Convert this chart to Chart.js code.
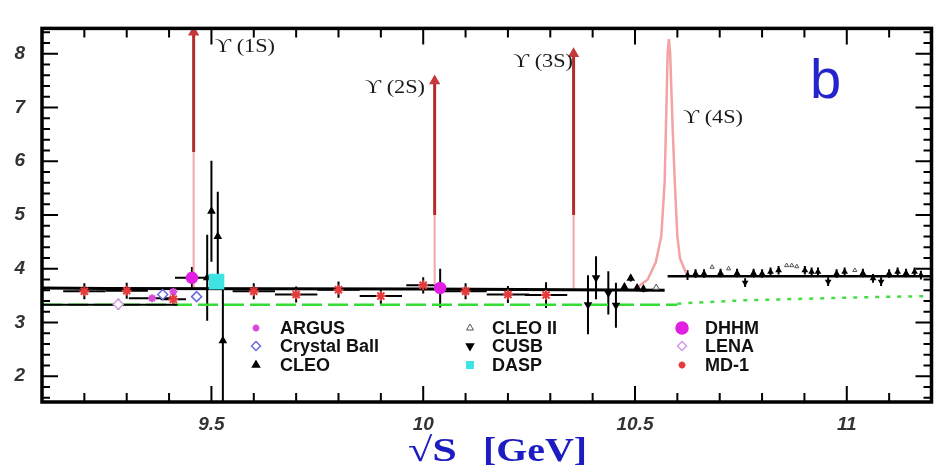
<!DOCTYPE html>
<html><head><meta charset="utf-8">
<script src="https://cdn.jsdelivr.net/npm/chart.js@4.4.1/dist/chart.umd.min.js"></script>
<style>html,body{margin:0;padding:0;background:#fff;}</style>
</head><body>
<canvas id="c" width="943" height="472"></canvas>
<script>
// ---------- axis ranges & tick labels ----------
const xMin = 9.1, xMax = 11.2, yMin = 1.52, yMax = 8.47;
const xTickLabels = [9.5, 10, 10.5, 11];
const yTickLabels = [2, 3, 4, 5, 6, 7, 8];

// ---------- experiments ----------
const argusX = [9.36, 9.41];
const argusY = [3.45, 3.57];
const argusErrY = [0.05, 0.08];
const argusErrX = [0.055, 0];

const cbX = [9.385, 9.465];
const cbY = [3.52, 3.48];
const cbErrY = [0.06, 0.06];

const cleoX = [9.49, 9.50, 9.515, 9.527, 10.475, 10.49, 10.505, 10.52, 10.624, 10.643, 10.663, 10.702, 10.741, 10.78, 10.80, 10.82, 10.839, 10.901, 10.917, 10.932, 10.976, 10.995, 11.038, 11.062, 11.10, 11.12, 11.14, 11.16, 11.175];
const cleoY = [3.83, 5.07, 4.60, 2.66, 3.66, 3.82, 3.64, 3.62, 3.88, 3.91, 3.91, 3.92, 3.92, 3.92, 3.91, 3.94, 3.97, 3.97, 3.94, 3.94, 3.91, 3.94, 3.92, 3.82, 3.91, 3.94, 3.92, 3.94, 3.88];
const cleoErrY = [0.80, 0.94, 0.83, 1.15, 0.06, 0.06, 0.06, 0.06, 0.09, 0.08, 0.08, 0.08, 0.08, 0.08, 0.08, 0.08, 0.08, 0.08, 0.08, 0.08, 0.08, 0.08, 0.08, 0.08, 0.08, 0.08, 0.08, 0.08, 0.08];

const cleo2X = [10.55, 10.682, 10.721, 10.858, 10.87, 10.882, 11.019];
const cleo2Y = [3.65, 4.03, 4.00, 4.06, 4.06, 4.04, 3.97];

const cusbX = [10.389, 10.408, 10.437, 10.455, 10.76, 10.956, 11.081];
const cusbY = [3.33, 3.83, 3.55, 3.32, 3.74, 3.76, 3.76];
const cusbErrY = [0.55, 0.40, 0.40, 0.42, 0.08, 0.08, 0.08];

const daspX = [9.512];
const daspY = [3.76];
const daspErrY = [0.10];

const dhhmX = [9.454, 10.04];
const dhhmY = [3.83, 3.64];
const dhhmErrY = [0.20, 0.36];
const dhhmErrX = [0.04, 0];

const lenaX = [9.28];
const lenaY = [3.34];
const lenaErrY = [0.10];

const md1X = [9.20, 9.30, 9.41, 9.60, 9.70, 9.80, 9.90, 10.00, 10.10, 10.20, 10.29];
const md1Y = [3.58, 3.59, 3.43, 3.58, 3.52, 3.61, 3.49, 3.69, 3.58, 3.52, 3.51];
const md1ErrY = [0.15, 0.15, 0.10, 0.15, 0.15, 0.15, 0.15, 0.15, 0.15, 0.16, 0.24];
const md1ErrX = [0.05, 0.05, 0.03, 0.05, 0.05, 0.05, 0.05, 0.04, 0.05, 0.05, 0.05];

// ---------- resonances ----------
const upsNames = ['ϒ (1S)', 'ϒ (2S)', 'ϒ (3S)', 'ϒ (4S)'];
const upsMass = [9.458, 10.027, 10.355];
const upsTop = [8.40, 7.49, 8.00];
const upsDarkFrom = [6.17, 5.00, 5.00];
const upsBase = [3.62, 3.70, 3.61];

const peak4X = [10.50, 10.53, 10.549, 10.562, 10.570, 10.573, 10.577, 10.580, 10.583, 10.589, 10.594, 10.600, 10.606, 10.616, 10.624];
const peak4Y = [3.62, 3.80, 4.12, 4.60, 5.60, 6.60, 8.00, 8.27, 8.00, 6.60, 5.60, 4.60, 4.20, 4.00, 3.88];

// ---------- continuum lines ----------
const contUpperX = [9.1, 9.25, 10.0, 10.57];
const contUpperY = [3.64, 3.63, 3.62, 3.60];
const contLowerX = [9.1, 9.42];
const contLowerY = [3.33, 3.33];
const contRightX = [10.577, 11.2];
const contRightY = [3.86, 3.86];
const greenDashX = [9.1, 10.6];
const greenDashY = [3.33, 3.33];
const greenDotX = [10.6, 10.75, 10.9, 11.05, 11.2];
const greenDotY = [3.35, 3.41, 3.44, 3.47, 3.49];

const pts = (xs, ys) => xs.map((x, i) => ({x: x, y: ys[i]}));
// smaller markers in the dense continuum scan above the 4S
const scanRadius = ctx => (ctx.raw && ctx.raw.x > 10.6) ? 2.4 : 3.5;

function marker(label, xs, ys, style, extra) {
  return Object.assign({
    label: label, data: pts(xs, ys), showLine: false,
    pointStyle: style, pointRadius: 4, pointBorderWidth: 1.5,
    pointBackgroundColor: '#000', pointBorderColor: '#000'
  }, extra || {});
}
function line(xs, ys, color, width, dash) {
  return { label: '', data: pts(xs, ys), showLine: true, pointRadius: 0,
    borderColor: color, borderWidth: width, borderDash: dash || [], fill: false, tension: 0 };
}

const datasets = [
  marker('DHHM', dhhmX, dhhmY, 'circle', {pointRadius: 5.5, pointBackgroundColor: '#e21ee2', pointBorderColor: '#e21ee2', errY: dhhmErrY, errX: dhhmErrX, legendRadius: 6}),
  marker('DASP', daspX, daspY, 'rect', {pointRadius: 10, pointBackgroundColor: '#3fe3e3', pointBorderColor: '#3fe3e3', errY: daspErrY, legendRadius: 4.5}),
  marker('MD-1', md1X, md1Y, 'star', {pointRadius: 5, pointBorderWidth: 2, pointBorderColor: '#e83a3a', pointBackgroundColor: '#e83a3a', errY: md1ErrY, errX: md1ErrX, legendRadius: 3.5}),
  marker('ARGUS', argusX, argusY, 'star', {pointRadius: 4, pointBorderWidth: 2, pointBorderColor: '#d94ad9', pointBackgroundColor: '#d94ad9', errY: argusErrY, errX: argusErrX, legendRadius: 3.5}),
  marker('Crystal Ball', cbX, cbY, 'rectRot', {pointRadius: 5, pointBorderColor: '#6a6ae0', pointBackgroundColor: '#ffffff', errY: cbErrY, legendRadius: 4.5}),
  marker('LENA', lenaX, lenaY, 'rectRot', {pointRadius: 5, pointBorderColor: '#d29be6', pointBackgroundColor: '#ffffff', errY: lenaErrY, legendRadius: 4.5}),
  marker('CLEO', cleoX, cleoY, 'triangle', {pointRadius: scanRadius, errY: cleoErrY, legendRadius: 4}),
  marker('CLEO II', cleo2X, cleo2Y, 'triangle', {pointRadius: scanRadius, pointBackgroundColor: '#ffffff', pointBorderColor: '#555', pointBorderWidth: 1, legendRadius: 4}),
  marker('CUSB', cusbX, cusbY, 'triangle', {pointRadius: scanRadius, pointRotation: 180, errY: cusbErrY, legendRadius: 4}),
  line(contRightX, contRightY, '#000', 2.5),
  line(contUpperX, contUpperY, '#000', 3),
  line(contLowerX, contLowerY, '#000', 2),
  line(peak4X, peak4Y, '#f3a3a3', 2.5),
  line(greenDashX, greenDashY, '#33dd33', 2.5, [20, 6]),
  line(greenDotX, greenDotY, '#44dd44', 2.5, [4, 7])
];
// narrow Upsilon resonances: pale lower part + dark upper part with arrowhead
upsMass.forEach((m, i) => {
  datasets.push({ label: '', showLine: true, borderColor: '#b42b2b', borderWidth: 3,
    data: [{x: m, y: upsDarkFrom[i]}, {x: m, y: upsTop[i]}],
    pointRadius: [0, 3.5], pointStyle: 'triangle', pointBackgroundColor: '#c43a3a', pointBorderColor: '#c43a3a' });
  datasets.push({ label: '', showLine: true, borderColor: '#f2a8a8', borderWidth: 2, pointRadius: 0,
    data: [{x: m, y: upsBase[i]}, {x: m, y: upsDarkFrom[i]}] });
});

function drawStretched(ctx, text, x, y, w) {
  const mw = ctx.measureText(text).width;
  ctx.save(); ctx.translate(x, y); ctx.scale(w / mw, 1); ctx.fillText(text, 0, 0); ctx.restore();
}

const decor = {
  id: 'decor',
  beforeDatasetsDraw(chart) {
    const {ctx, chartArea: a, scales: {x, y}} = chart;
    ctx.save();
    ctx.beginPath(); ctx.rect(a.left, a.top, a.right - a.left, a.bottom - a.top); ctx.clip();
    chart.data.datasets.forEach(ds => {
      if (!ds.errY && !ds.errX) return;
      ctx.strokeStyle = '#000'; ctx.lineWidth = 2;
      ds.data.forEach((p, j) => {
        const px = x.getPixelForValue(p.x), py = y.getPixelForValue(p.y);
        ctx.beginPath();
        if (ds.errY && ds.errY[j]) { ctx.moveTo(px, y.getPixelForValue(p.y - ds.errY[j])); ctx.lineTo(px, y.getPixelForValue(p.y + ds.errY[j])); }
        if (ds.errX && ds.errX[j]) { ctx.moveTo(x.getPixelForValue(p.x - ds.errX[j]), py); ctx.lineTo(x.getPixelForValue(p.x + ds.errX[j]), py); }
        ctx.stroke();
      });
    });
    ctx.restore();
  },
  afterDraw(chart) {
    const {ctx, chartArea: a, scales: {x, y}} = chart;
    ctx.save();
    // frame
    ctx.strokeStyle = '#000'; ctx.lineWidth = 3.5;
    ctx.strokeRect(a.left, a.top, a.right - a.left, a.bottom - a.top);
    // inward ticks
    ctx.lineWidth = 2; ctx.beginPath();
    for (let k = 92; k <= 111; k++) {
      const px = x.getPixelForValue(k / 10), L = (k % 5 === 0) ? 16 : 9;
      ctx.moveTo(px, a.bottom); ctx.lineTo(px, a.bottom - L);
      ctx.moveTo(px, a.top); ctx.lineTo(px, a.top + L);
    }
    for (let k = 16; k <= 84; k += 2) {
      const py = y.getPixelForValue(k / 10), L = (k % 10 === 0) ? 16 : 8;
      ctx.moveTo(a.left, py); ctx.lineTo(a.left + L, py);
      ctx.moveTo(a.right, py); ctx.lineTo(a.right - L, py);
    }
    ctx.stroke();

    // legend (inside plot)
    const order = ['ARGUS', 'Crystal Ball', 'CLEO', 'CLEO II', 'CUSB', 'DASP', 'DHHM', 'LENA', 'MD-1'];
    const colMarkX = [256, 470, 682], colTextX = [280, 492, 705], rowY = [328, 346, 365];
    ctx.font = "bold 18px 'Liberation Sans', Arial, sans-serif";
    ctx.textBaseline = 'middle'; ctx.textAlign = 'left';
    order.forEach((name, idx) => {
      const ds = chart.data.datasets.find(d => d.label === name);
      const c = Math.floor(idx / 3), r = idx % 3;
      ctx.fillStyle = ds.pointBackgroundColor; ctx.strokeStyle = ds.pointBorderColor;
      ctx.lineWidth = ds.pointBorderWidth;
      Chart.helpers.drawPoint(ctx, {pointStyle: ds.pointStyle, radius: ds.legendRadius, rotation: ds.pointRotation || 0, borderWidth: ds.pointBorderWidth}, colMarkX[c], rowY[r]);
      ctx.fillStyle = '#111';
      ctx.fillText(name, colTextX[c], rowY[r] + 1);
    });

    // resonance labels
    ctx.fillStyle = '#1a1a1a';
    ctx.font = "18px 'Liberation Serif', 'DejaVu Serif', serif";
    ctx.textBaseline = 'middle';
    const labPos = [[215, 47], [365, 88], [513, 62], [683, 118]];
    upsNames.forEach((t, i) => drawStretched(ctx, t, labPos[i][0], labPos[i][1], 60));

    // panel letter
    ctx.fillStyle = '#2424cc';
    ctx.font = "56px 'Liberation Sans', Arial, sans-serif";
    ctx.textBaseline = 'alphabetic';
    ctx.fillText('b', 810, 98);

    // axis title
    ctx.fillStyle = '#1c1cc0';
    ctx.font = "bold 34px 'Liberation Serif', 'DejaVu Serif', serif";
    drawStretched(ctx, '√S', 408, 461, 49);
    drawStretched(ctx, '[GeV]', 483, 461, 104);
    ctx.restore();
  }
};

const tickFont = {family: "'Liberation Sans', Arial, sans-serif", size: 19, style: 'italic', weight: 'bold'};
new Chart(document.getElementById('c'), {
  type: 'scatter',
  data: {datasets: datasets},
  options: {
    responsive: false, animation: false, devicePixelRatio: 1,
    layout: {padding: {top: 13, right: 7, left: 0, bottom: 0}},
    plugins: {legend: {display: false}, tooltip: {enabled: false}},
    elements: {line: {borderCapStyle: 'butt'}},
    scales: {
      x: {
        type: 'linear', min: xMin, max: xMax,
        afterBuildTicks: s => { s.ticks = xTickLabels.map(v => ({value: v})); },
        afterFit: s => { s.height = 70; },
        grid: {display: false, drawTicks: false}, border: {display: false},
        ticks: {padding: 11, font: tickFont, color: '#333', autoSkip: false, maxRotation: 0, callback: v => String(v)}
      },
      y: {
        type: 'linear', min: yMin, max: yMax,
        afterBuildTicks: s => { s.ticks = yTickLabels.map(v => ({value: v})); },
        afterFit: s => { s.width = 42; },
        grid: {display: false, drawTicks: false}, border: {display: false},
        ticks: {padding: 17, font: tickFont, color: '#333', autoSkip: false, callback: v => String(v)}
      }
    }
  },
  plugins: [decor]
});
</script>
</body></html>
